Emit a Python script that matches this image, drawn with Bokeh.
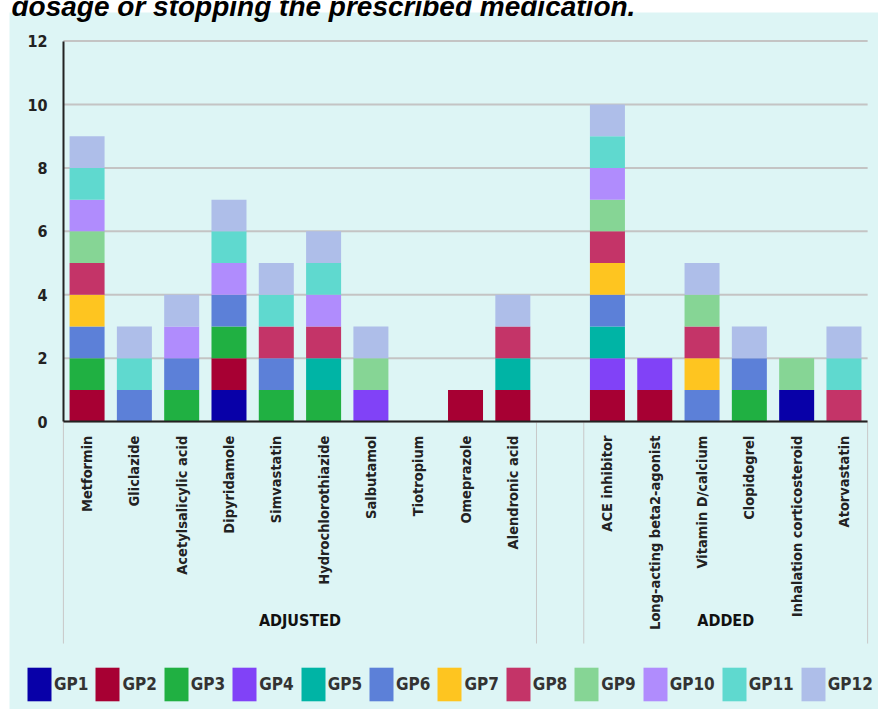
import math

from bokeh.embed import file_html
from bokeh.models import BoxAnnotation, ColumnDataSource, FixedTicker, Label, LinearAxis, Range1d
from bokeh.plotting import figure
from bokeh.resources import INLINE

# Medications whose dosage was adjusted, and medications that were added
adjusted = ["Metformin", "Gliclazide", "Acetylsalicylic acid", "Dipyridamole", "Simvastatin",
            "Hydrochlorothiazide", "Salbutamol", "Tiotropium", "Omeprazole", "Alendronic acid"]
added = ["ACE inhibitor", "Long-acting beta2-agonist", "Vitamin D/calcium", "Clopidogrel",
         "Inhalation corticosteroid", "Atorvastatin"]
gap = ""
categories = adjusted + [gap] + added

# Number of patients per GP for each medication (same order as categories)
gp1  = [0, 0, 0, 1, 0, 0, 0, 0, 0, 0, 0, 0, 0, 0, 0, 1, 0]
gp2  = [1, 0, 0, 1, 0, 0, 0, 0, 1, 1, 0, 1, 1, 0, 0, 0, 0]
gp3  = [1, 0, 1, 1, 1, 1, 0, 0, 0, 0, 0, 0, 0, 0, 1, 0, 0]
gp4  = [0, 0, 0, 0, 0, 0, 1, 0, 0, 0, 0, 1, 1, 0, 0, 0, 0]
gp5  = [0, 0, 0, 0, 0, 1, 0, 0, 0, 1, 0, 1, 0, 0, 0, 0, 0]
gp6  = [1, 1, 1, 1, 1, 0, 0, 0, 0, 0, 0, 1, 0, 1, 1, 0, 0]
gp7  = [1, 0, 0, 0, 0, 0, 0, 0, 0, 0, 0, 1, 0, 1, 0, 0, 0]
gp8  = [1, 0, 0, 0, 1, 1, 0, 0, 0, 1, 0, 1, 0, 1, 0, 0, 1]
gp9  = [1, 0, 0, 0, 0, 0, 1, 0, 0, 0, 0, 1, 0, 1, 0, 1, 0]
gp10 = [1, 0, 1, 1, 0, 1, 0, 0, 0, 0, 0, 1, 0, 0, 0, 0, 0]
gp11 = [1, 1, 0, 1, 1, 1, 0, 0, 0, 0, 0, 1, 0, 0, 0, 0, 1]
gp12 = [1, 1, 1, 1, 1, 1, 1, 0, 0, 1, 0, 1, 0, 1, 1, 0, 1]

gp_names = ["GP1", "GP2", "GP3", "GP4", "GP5", "GP6", "GP7", "GP8", "GP9", "GP10", "GP11", "GP12"]
gp_series = [gp1, gp2, gp3, gp4, gp5, gp6, gp7, gp8, gp9, gp10, gp11, gp12]
gp_colors = ["#0800a8", "#a70033", "#20b042", "#8142f7", "#00b4a5", "#5c80d8",
             "#fec520", "#c43468", "#86d595", "#b08cfd", "#5fd9cf", "#aebee9"]

y_ticks = [0, 2, 4, 6, 8, 10, 12]

COND = "DejaVu Sans Condensed, DejaVu Sans, sans-serif"
BG = "#ddf5f5"
W, H = 878, 709

positions = list(range(len(categories)))
data = {"x": positions}
for name, series in zip(gp_names, gp_series):
    data[name] = series
source = ColumnDataSource(data)

# the frame fills the whole page; axes are pinned inside it
p = figure(
    width=W, height=H,
    x_range=Range1d(-1.83, 16.73),
    y_range=Range1d(-9.08, 13.28),
    x_axis_location=None, y_axis_location=None,
    output_backend="svg", toolbar_location=None, title=None,
    min_border=0, min_border_left=0, min_border_right=0, min_border_top=0, min_border_bottom=0,
    border_fill_color="white", background_fill_color="white", outline_line_color=None,
)
p.xgrid.visible = False
p.ygrid.visible = False

# light panel, leaving a thin white strip on top and on the left
p.add_layout(BoxAnnotation(left=9, right=W, bottom=0, top=H - 12,
                           left_units="screen", right_units="screen",
                           top_units="screen", bottom_units="screen",
                           fill_color=BG, fill_alpha=1, line_color=None, level="image"))

x_lo = positions[0] - 0.5
x_hi = positions[-1] + 0.5

# horizontal grid lines across the plotting area
p.segment(x0=[x_lo] * len(y_ticks), x1=[x_hi] * len(y_ticks), y0=y_ticks, y1=y_ticks,
          line_color="#c4c4c4", line_width=2)

# separators between the two groups, running down through the label area
first_adj = categories.index(adjusted[0]) - 0.5
last_adj = categories.index(adjusted[-1]) + 0.5
first_add = categories.index(added[0]) - 0.5
last_add = categories.index(added[-1]) + 0.5
seps = [first_adj, last_adj, first_add, last_add]
p.segment(x0=seps, x1=seps, y0=[0] * len(seps), y1=[-7] * len(seps),
          line_color="#c8c8c8", line_width=1)

p.vbar_stack(gp_names, x="x", width=0.74, source=source,
             fill_color=gp_colors, line_color=None,
             legend_label=gp_names)

# value axis
yaxis = LinearAxis(fixed_location=x_lo, bounds=(y_ticks[0], y_ticks[-1]),
                   ticker=FixedTicker(ticks=y_ticks))
yaxis.axis_line_color = "#222222"
yaxis.axis_line_width = 2
yaxis.major_tick_line_color = None
yaxis.minor_tick_line_color = None
yaxis.major_label_standoff = 10
yaxis.major_label_text_font = COND
yaxis.major_label_text_font_style = "bold"
yaxis.major_label_text_font_size = "16px"
yaxis.major_label_text_color = "#222222"
p.add_layout(yaxis, "left")

# medication axis
drug_ticks = [i for i, c in zip(positions, categories) if c != gap]
xaxis = LinearAxis(fixed_location=0, bounds=(x_lo, x_hi),
                   ticker=FixedTicker(ticks=drug_ticks),
                   major_label_overrides={i: categories[i] for i in drug_ticks})
xaxis.axis_line_color = "#222222"
xaxis.axis_line_width = 2
xaxis.major_tick_line_color = None
xaxis.minor_tick_line_color = None
xaxis.major_label_orientation = math.pi / 2
xaxis.major_label_standoff = 8
xaxis.major_label_text_font = COND
xaxis.major_label_text_font_style = "bold"
xaxis.major_label_text_font_size = "14.5px"
xaxis.major_label_text_color = "#222222"
p.add_layout(xaxis, "below")

# group captions under the drug names
for text, members in [("ADJUSTED", adjusted), ("ADDED", added)]:
    centers = [categories.index(m) for m in members]
    p.add_layout(Label(x=sum(centers) / len(centers), y=H - 620, x_units="data", y_units="screen",
                       text=text, text_align="center", text_baseline="middle",
                       text_font=COND, text_font_style="bold", text_font_size="16px",
                       text_color="#111111"))

# heading line at the very top
p.add_layout(Label(x=11, y=H - 6, x_units="screen", y_units="screen",
                   text="dosage or stopping the prescribed medication.",
                   text_font="Liberation Sans", text_font_style="bold italic",
                   text_font_size="28px", text_baseline="alphabetic", text_color="black"))

# legend along the bottom
lg = p.legend[0]
lg.orientation = "horizontal"
lg.location = (24, 4)
lg.glyph_width = 30
lg.glyph_height = 42
lg.label_standoff = 0
lg.spacing = 4
lg.padding = 0
lg.margin = 0
lg.border_line_color = None
lg.background_fill_alpha = 0
lg.label_text_font = COND
lg.label_text_font_style = "bold"
lg.label_text_font_size = "17px"
lg.label_text_color = "#333333"

open("out.html", "w").write(file_html(p, INLINE))
